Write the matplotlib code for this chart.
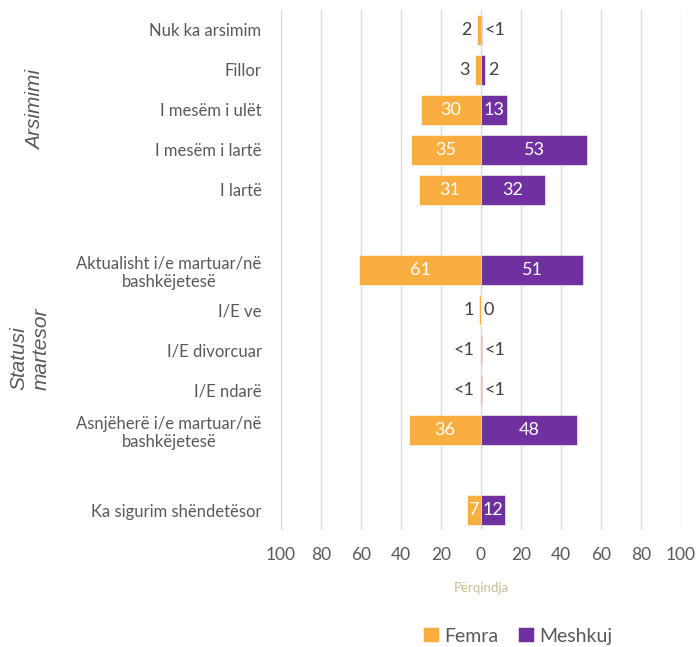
import numpy as np
import matplotlib.pyplot as plt
from matplotlib.ticker import FixedLocator, FuncFormatter

plt.rcParams["font.family"] = ["Lato", "DejaVu Sans"]

categories = [
    "Nuk ka arsimim",
    "Fillor",
    "I mesëm i ulët",
    "I mesëm i lartë",
    "I lartë",
    None,
    "Aktualisht i/e martuar/në\nbashkëjetesë",
    "I/E ve",
    "I/E divorcuar",
    "I/E ndarë",
    "Asnjëherë i/e martuar/në\nbashkëjetesë",
    None,
    "Ka sigurim shëndetësor",
]
femra = [2, 3, 30, 35, 31, None, 61, 1, 0.4, 0.4, 36, None, 7]
meshkuj = [0.4, 2, 13, 53, 32, None, 51, 0, 0.4, 0.4, 48, None, 12]
femra_labels = ["2", "3", "30", "35", "31", None, "61", "1", "<1", "<1", "36", None, "7"]
meshkuj_labels = ["<1", "2", "13", "53", "32", None, "51", "0", "<1", "<1", "48", None, "12"]
xticks = [-100, -80, -60, -40, -20, 0, 20, 40, 60, 80, 100]

ORANGE = "#FBAE40"
PURPLE = "#7030A0"
GRAY = "#595959"

fig = plt.figure(figsize=(6.96, 6.47), dpi=100)
ax = fig.add_axes([281 / 696, 1 - 530 / 647, 400 / 696, 520 / 647])

rows = [i for i, c in enumerate(categories) if c is not None]
y = np.array(rows)
f = np.array([femra[i] for i in rows], dtype=float)
m = np.array([meshkuj[i] for i in rows], dtype=float)

ax.barh(y, -f, height=0.75, color=ORANGE, edgecolor="white", linewidth=0.4,
        label="Femra", zorder=3)
ax.barh(y, m, height=0.75, color=PURPLE, edgecolor="white", linewidth=0.4,
        label="Meshkuj", zorder=3)

for i in rows:
    fv, mv = femra[i], meshkuj[i]
    if fv >= 5:
        ax.text(-fv / 2, i, femra_labels[i], color="white", fontsize=13,
                ha="center", va="center", zorder=4)
    else:
        ax.annotate(femra_labels[i], (-fv, i), xytext=(-4, 0),
                    textcoords="offset points", color="#404040", fontsize=13,
                    ha="right", va="center")
    if mv >= 5:
        ax.text(mv / 2, i, meshkuj_labels[i], color="white", fontsize=13,
                ha="center", va="center", zorder=4)
    else:
        ax.annotate(meshkuj_labels[i], (mv, i), xytext=(2, 0),
                    textcoords="offset points", color="#404040", fontsize=13,
                    ha="left", va="center")

ax.set_xlim(-100, 100)
ax.set_ylim(len(categories) - 0.5, -0.5)
ax.xaxis.set_major_locator(FixedLocator(xticks))
ax.xaxis.set_major_formatter(FuncFormatter(lambda v, p: f"{abs(v):.0f}"))
ax.set_yticks(y)
ax.set_yticklabels([categories[i] for i in rows], fontsize=12, color=GRAY,
                   multialignment="center")
ax.tick_params(axis="x", length=0, pad=12, labelsize=12.5, labelcolor=GRAY)
ax.tick_params(axis="y", length=0, pad=14)
ax.grid(axis="x", color="#d9d9d9", linewidth=1, zorder=0)
for s in ax.spines.values():
    s.set_visible(False)

ax.set_xlabel("Përqindja", color="#c9bc91", fontsize=9.5, labelpad=14)

fig.text(36 / 696, 1 - 110 / 647, "Arsimimi", rotation=90, style="italic",
         fontsize=15, color=GRAY, ha="center", va="center",
         family="Liberation Sans")
fig.text(30 / 696, 1 - 349 / 647, "Statusi\nmartesor", rotation=90, style="italic",
         fontsize=15, color=GRAY, ha="center", va="center", linespacing=1.2,
         multialignment="left", family="Liberation Sans")

fig.legend(loc="center", bbox_to_anchor=(518 / 696, 1 - 636 / 647), ncol=2,
           frameon=False, fontsize=14, handlelength=0.8, handleheight=0.8,
           handletextpad=0.3, columnspacing=1.0, labelcolor=GRAY)

fig.savefig("out.png", dpi=100)
